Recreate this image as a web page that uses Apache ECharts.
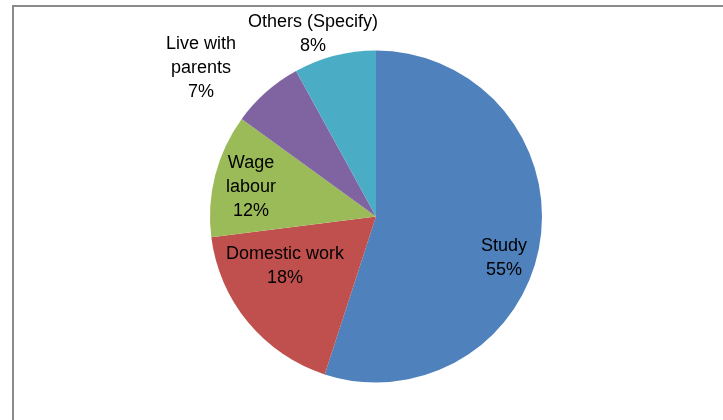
<!DOCTYPE html>
<html>
<head>
<meta charset="utf-8">
<script src="https://cdn.jsdelivr.net/npm/echarts@6/dist/echarts.min.js"></script>
<style>
  html, body { margin: 0; padding: 0; background: #fff; }
  #chart { width: 723px; height: 420px; }
</style>
</head>
<body>
<div id="chart"></div>
<script>
// Main activity shares (percent)
const categories = ['Study', 'Domestic work', 'Wage labour', 'Live with parents', 'Others (Specify)'];
const shares = [55, 18, 12, 7, 8];
const colors = ['#4F81BD', '#C0504D', '#9BBB59', '#8064A2', '#4BACC6'];

// How each category name wraps inside its label
const wrapped = {
  'Wage labour': 'Wage\nlabour',
  'Live with parents': 'Live with\nparents'
};

// Label anchor points (centre of each text block)
const labelAnchors = [
  [504, 258],
  [285, 266],
  [251, 187],
  [201, 68],
  [313, 34]
];

const chart = echarts.init(document.getElementById('chart'), null, { renderer: 'canvas' });

chart.setOption({
  animation: false,
  backgroundColor: '#fff',
  graphic: [{
    type: 'rect',
    shape: { x: 13, y: 6, width: 800, height: 500 },
    style: { fill: 'none', stroke: '#8a8a8a', lineWidth: 2 },
    silent: true,
    z: 10
  }],
  series: [{
    type: 'pie',
    center: [376, 216.5],
    radius: 166,
    startAngle: 90,
    clockwise: true,
    avoidLabelOverlap: false,
    itemStyle: { borderWidth: 0 },
    emphasis: { disabled: true },
    label: {
      show: true,
      position: 'inside',
      formatter: p => (wrapped[p.name] || p.name) + '\n' + p.value + '%',
      fontFamily: 'Liberation Sans',
      fontSize: 18,
      lineHeight: 24,
      color: '#000',
      align: 'center'
    },
    labelLine: { show: false },
    labelLayout: params => ({
      x: labelAnchors[params.dataIndex][0],
      y: labelAnchors[params.dataIndex][1],
      align: 'center',
      verticalAlign: 'middle'
    }),
    data: categories.map((name, i) => ({
      name,
      value: shares[i],
      itemStyle: { color: colors[i] }
    }))
  }]
});
</script>
</body>
</html>
